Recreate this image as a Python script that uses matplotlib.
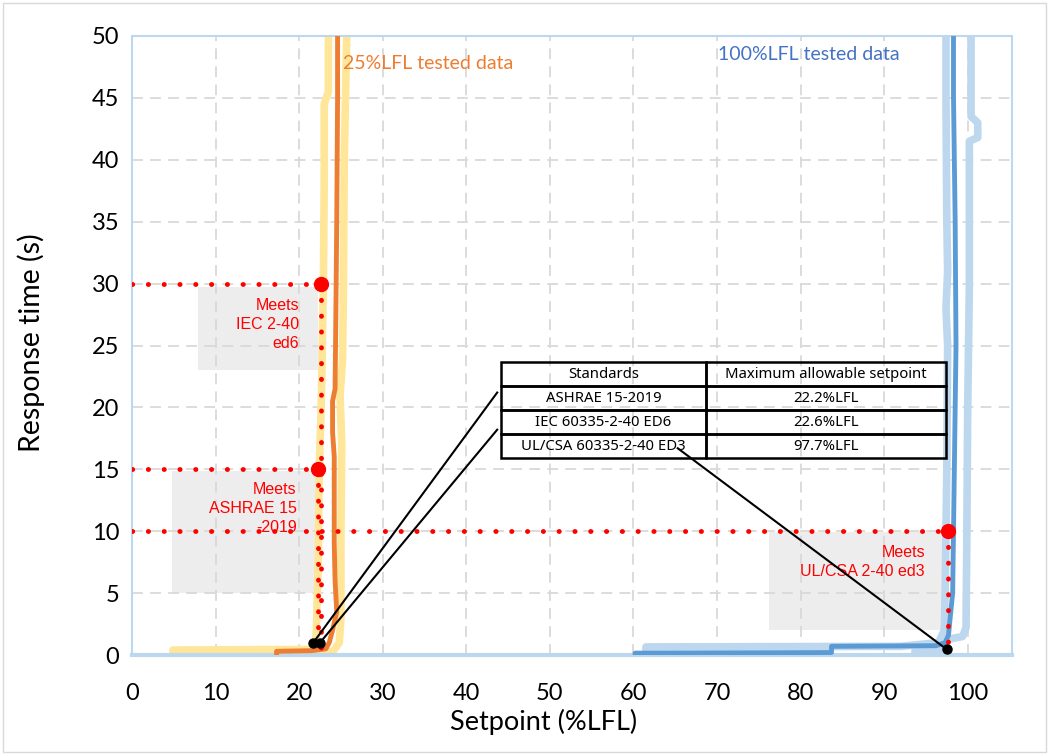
import matplotlib
matplotlib.use("Agg")
import matplotlib.pyplot as plt
from matplotlib.patches import Rectangle

# ---------------- data ----------------
# 25%LFL tested data
lfl25_main_x = [17.3, 17.3, 21.5, 23.2, 23.6, 24.0, 24.5, 24.3, 24.2, 24.2, 24.0, 24.0, 24.3, 24.4, 24.5, 24.6, 24.6]
lfl25_main_y = [0.0, 0.3, 0.35, 0.5, 1.0, 2.0, 3.5, 6.0, 9.0, 16.0, 18.0, 20.5, 21.5, 28.0, 35.0, 45.0, 50.0]
lfl25_a_x = [4.9, 4.9, 21.3, 22.0, 22.1, 22.3, 22.4, 22.6, 22.7, 22.8, 22.9, 23.0, 23.0, 23.5, 23.5]
lfl25_a_y = [0.0, 0.4, 0.45, 1.0, 3.0, 8.0, 15.0, 19.0, 22.0, 26.0, 30.0, 38.0, 44.5, 45.5, 50.0]
lfl25_b_x = [18.5, 18.5, 24.0, 24.8, 25.0, 25.0, 25.1, 24.9, 25.2, 25.3, 25.4, 25.6, 25.7]
lfl25_b_y = [0.0, 0.2, 0.25, 1.0, 3.0, 10.0, 17.0, 21.0, 24.0, 30.0, 40.0, 47.0, 50.0]

# 100%LFL tested data
lfl100_main_x = [60.2, 60.2, 83.7, 83.7, 96.2, 97.3, 97.7, 97.9, 98.2, 98.4, 98.6, 98.5, 98.3, 98.3]
lfl100_main_y = [0.0, 0.15, 0.2, 0.7, 0.75, 1.0, 1.6, 3.0, 5.0, 15.0, 25.0, 35.0, 45.0, 50.0]
lfl100_a_x = [61.5, 61.5, 92.0, 96.5, 97.2, 97.3, 97.5, 97.6, 97.4, 97.6, 97.5, 97.4, 97.4]
lfl100_a_y = [0.0, 0.65, 0.7, 1.0, 2.0, 5.0, 15.0, 25.0, 28.0, 31.0, 35.0, 45.0, 50.0]
lfl100_b_x = [93.7, 93.7, 96.8, 97.2, 99.4, 99.8, 99.9, 100.0, 100.2, 100.2, 101.2, 101.2, 100.4, 100.4]
lfl100_b_y = [0.0, 0.35, 0.45, 1.2, 1.5, 2.2, 10.0, 20.0, 30.0, 41.5, 41.8, 43.0, 43.5, 50.0]

# standards
standards = ['ASHRAE 15-2019', 'IEC 60335-2-40 ED6', 'UL/CSA 60335-2-40 ED3']
max_setpoint_labels = ['22.2%LFL', '22.6%LFL', '97.7%LFL']
meets_x = [22.2, 22.6, 97.7]
meets_time = [15, 30, 10]
meets_labels = ['Meets\nASHRAE 15\n-2019', 'Meets\nIEC 2-40\ned6', 'Meets\nUL/CSA 2-40 ed3']
low_time_x = [21.7, 22.5, 97.5]
low_time_y = [1.0, 1.0, 0.45]

x_ticks = [0, 10, 20, 30, 40, 50, 60, 70, 80, 90, 100]
y_ticks = [0, 5, 10, 15, 20, 25, 30, 35, 40, 45, 50]

# ---------------- figure ----------------
W, H = 1049, 755
fig = plt.figure(figsize=(W / 100, H / 100), dpi=100)
ax = fig.add_axes([132 / W, 1 - 655 / H, (1012 - 132) / W, (655 - 36) / H])
ax.set_xlim(0, 105.3)
ax.set_ylim(0, 50)

fig.patches.append(Rectangle((3 / W, 3 / H), 1 - 6 / W, 1 - 6 / H, transform=fig.transFigure,
                             fill=False, edgecolor='#D9D9D9', linewidth=1))

YEL, ORA, LBL, DBL = '#FFE699', '#ED7D31', '#BDD7EE', '#5B9BD5'
ax.set_axisbelow(True)
ax.grid(True, color='#D9D9D9', linestyle=(0, (6, 4)), linewidth=1.3)
for s in ['left', 'top', 'right']:
    ax.spines[s].set_color(LBL)
    ax.spines[s].set_linewidth(1.5)
ax.spines['bottom'].set_color(LBL)
ax.spines['bottom'].set_linewidth(3)

ax.set_xticks(x_ticks)
ax.set_yticks(y_ticks)
ax.tick_params(length=0, labelsize=17)
ax.tick_params(axis='y', pad=9)
ax.tick_params(axis='x', pad=20)
for lab in ax.get_xticklabels() + ax.get_yticklabels():
    lab.set_fontfamily('Lato')
fig.text(544 / W, 1 - 722 / H, 'Setpoint (%LFL)', fontsize=19.5, fontfamily='Lato', ha='center', va='center')
fig.text(31 / W, 1 - 343 / H, 'Response time (s)', fontsize=20.5, fontfamily='Lato', ha='center', va='center',
         rotation=90)

# gray annotation boxes
for (x0, x1, y0, y1) in [(7.9, 22.2, 23.0, 29.7), (4.8, 22.0, 5.0, 14.9), (76.2, 97.2, 2.0, 9.9)]:
    ax.add_patch(Rectangle((x0, y0), x1 - x0, y1 - y0, facecolor='#EDEDED', edgecolor='none', zorder=0.2))

# curves
kw = dict(solid_capstyle='round', solid_joinstyle='round')
ax.plot(lfl25_a_x, lfl25_a_y, color=YEL, lw=5.5, zorder=2, **kw)
ax.plot(lfl25_b_x, lfl25_b_y, color=YEL, lw=5.5, zorder=2, **kw)
ax.plot(lfl25_main_x, lfl25_main_y, color=ORA, lw=3.5, zorder=3, **kw)
ax.plot(lfl100_a_x, lfl100_a_y, color=LBL, lw=5.5, zorder=2, **kw)
ax.plot(lfl100_b_x, lfl100_b_y, color=LBL, lw=5.5, zorder=2, **kw)
ax.plot(lfl100_main_x, lfl100_main_y, color=DBL, lw=3.5, zorder=3, **kw)

ax.text(25.2, 47.8, '25%LFL tested data', color=ORA, fontsize=14, fontfamily='Lato', va='center', ha='left')
ax.text(70.1, 48.5, '100%LFL tested data', color='#4472C4', fontsize=14, fontfamily='Lato', va='center', ha='left')

# red dotted guides
dot = dict(color='red', lw=3.5, linestyle=(0, (0.05, 3.2)), dash_capstyle='round', zorder=4)
for x, t in zip(meets_x, meets_time):
    ax.plot([0, x], [t, t], **dot)
    ax.plot([x, x], [t, 0], **dot)
ax.plot(meets_x, meets_time, 'o', color='red', ms=10, zorder=5)

# meets texts
text_pos = [(19.7, 13.95), (20.0, 28.8), (94.9, 8.85)]
for (tx, ty), lab in zip(text_pos, meets_labels):
    ax.text(tx, ty, lab, color='red', fontsize=11.5, fontfamily='Liberation Sans', ha='right', va='top',
            multialignment='right', linespacing=1.33, zorder=4)

# table
rows = [['Standards', 'Maximum allowable setpoint']] + [[s, m] for s, m in zip(standards, max_setpoint_labels)]
tx0, tx1 = (501 - 132) / 880, (946 - 132) / 880
ty0, ty1 = (655 - 458) / 619, (655 - 362) / 619
tbl = ax.table(cellText=rows, cellLoc='center', colWidths=[205, 240],
               bbox=[tx0, ty0, tx1 - tx0, ty1 - ty0], zorder=6)
tbl.auto_set_font_size(False)
for (r, c), cell in tbl.get_celld().items():
    cell.set_facecolor('none')
    cell.set_edgecolor('black')
    cell.set_linewidth(1.8)
    cell.get_text().set_fontsize(10.7)
    cell.get_text().set_fontfamily('Noto Sans')

# connectors
conn_end = [(43.7, 21.2), (43.7, 18.2), (65.3, 16.7)]
for (x, y), (ex, ey) in zip(zip(low_time_x, low_time_y), conn_end):
    ax.plot([x, ex], [y, ey], color='black', lw=1.5, zorder=7)
ax.plot(low_time_x, low_time_y, 'o', color='black', ms=6.5, zorder=8)

fig.savefig('out.png', dpi=100)
